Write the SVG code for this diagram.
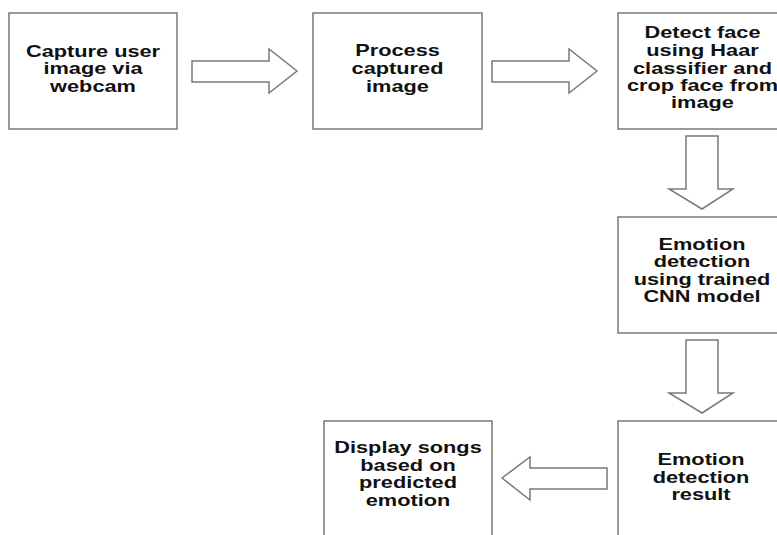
<svg xmlns="http://www.w3.org/2000/svg" width="777" height="535" viewBox="0 0 777 535">
<style>
.box{fill:#fff;stroke:#7a7a7a;stroke-width:1.5}
.arr{fill:#fff;stroke:#7a7a7a;stroke-width:1.5;stroke-linejoin:miter}
.lbl{font-family:"Liberation Sans",Arial,sans-serif;font-weight:bold;font-size:17px;fill:#111;text-anchor:middle}
</style>
<rect width="777" height="535" fill="#fff"/>
<g id="connectors">
<polygon class="arr" points="192,61 269,61 269,49 297,71 269,93 269,82 192,82"/>
<polygon class="arr" points="492,61 569,61 569,49 597,71 569,93 569,82 492,82"/>
<polygon class="arr" points="686,136 718,136 718,189 733,189 702,209 669,189 686,189"/>
<polygon class="arr" points="686,340 718,340 718,393 733,393 702,413 669,393 686,393"/>
<polygon class="arr" points="607,468 607,489 530,489 530,500 502,478 530,457 530,468"/>
</g>
<g id="capture">
<rect class="box" x="9" y="13" width="168" height="116"/>
<text class="lbl" transform="translate(93,0) scale(1.28,1)"><tspan x="0" y="57">Capture user</tspan><tspan x="0" y="74.5">image via</tspan><tspan x="0" y="92">webcam</tspan></text>
</g>
<g id="process">
<rect class="box" x="313" y="13" width="169" height="116"/>
<text class="lbl" transform="translate(397.5,0) scale(1.28,1)"><tspan x="0" y="56">Process</tspan><tspan x="0" y="74">captured</tspan><tspan x="0" y="92">image</tspan></text>
</g>
<g id="detect">
<rect class="box" x="618" y="13" width="170" height="116"/>
<text class="lbl" transform="translate(702.5,0) scale(1.28,1)"><tspan x="0" y="38.5">Detect face</tspan><tspan x="0" y="56.5">using Haar</tspan><tspan x="0" y="74">classifier and</tspan><tspan x="0" y="91.5">crop face from</tspan><tspan x="0" y="108.5">image</tspan></text>
</g>
<g id="cnn">
<rect class="box" x="618" y="217" width="170" height="116"/>
<text class="lbl" transform="translate(702,0) scale(1.28,1)"><tspan x="0" y="250">Emotion</tspan><tspan x="0" y="267.5">detection</tspan><tspan x="0" y="285">using trained</tspan><tspan x="0" y="302.5">CNN model</tspan></text>
</g>
<g id="result">
<rect class="box" x="618" y="421" width="170" height="130"/>
<text class="lbl" transform="translate(701,0) scale(1.28,1)"><tspan x="0" y="465">Emotion</tspan><tspan x="0" y="483">detection</tspan><tspan x="0" y="500">result</tspan></text>
</g>
<g id="display">
<rect class="box" x="324" y="421" width="168" height="130"/>
<text class="lbl" transform="translate(408,0) scale(1.28,1)"><tspan x="0" y="453">Display songs</tspan><tspan x="0" y="471">based on</tspan><tspan x="0" y="488">predicted</tspan><tspan x="0" y="506">emotion</tspan></text>
</g>
</svg>
